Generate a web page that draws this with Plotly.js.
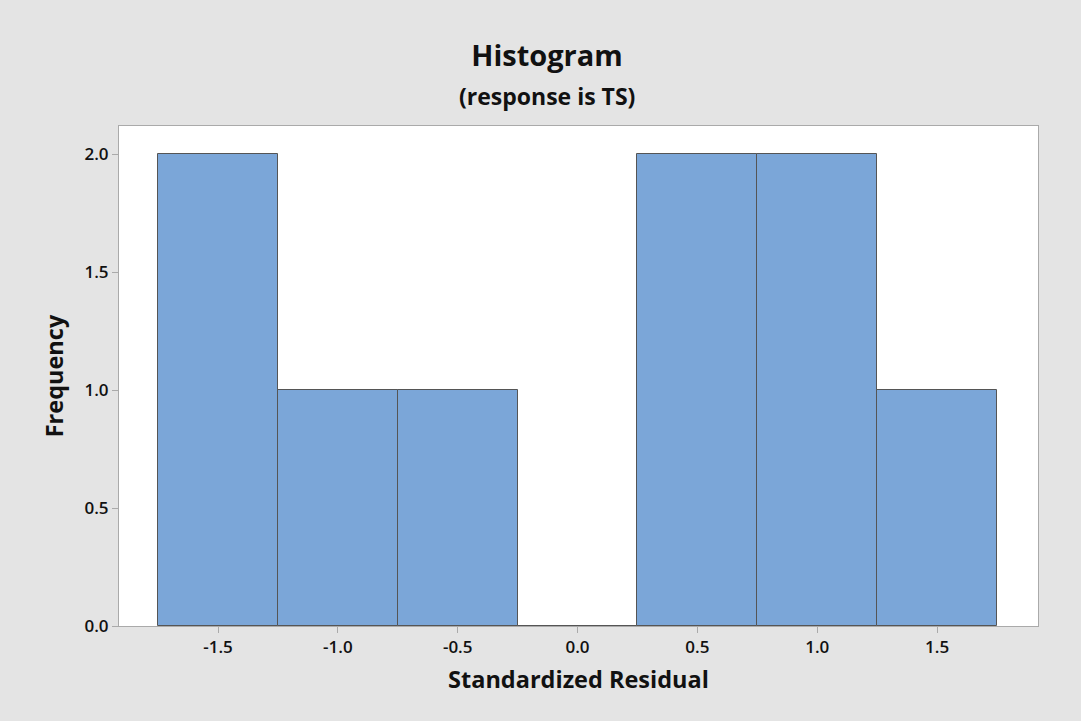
<!DOCTYPE html>
<html>
<head>
<meta charset="utf-8">
<script src="https://cdn.plot.ly/plotly-3.0.1.min.js"></script>
<style>html,body{margin:0;padding:0;background:#e4e4e4;}</style>
</head>
<body>
<div id="chart" style="width:1081px;height:721px;"></div>
<script>
const binCenters = [-1.5, -1.0, -0.5, 0.0, 0.5, 1.0, 1.5];
const frequencies = [2, 1, 1, 0, 2, 2, 1];
const xTickVals = [-1.5, -1.0, -0.5, 0.0, 0.5, 1.0, 1.5];
const xTickText = ['-1.5', '-1.0', '-0.5', '0.0', '0.5', '1.0', '1.5'];
const yTickVals = [0, 0.5, 1.0, 1.5, 2.0];
const yTickText = ['0.0', '0.5', '1.0', '1.5', '2.0'];

const font = '"Open Sans", "Noto Sans", sans-serif';

Plotly.newPlot('chart', [{
  type: 'bar',
  x: binCenters,
  y: frequencies,
  width: 0.5,
  marker: {color: '#7ba6d8', line: {color: '#555555', width: 1}},
  hoverinfo: 'x+y'
}], {
  width: 1081, height: 721,
  paper_bgcolor: '#e4e4e4',
  plot_bgcolor: '#ffffff',
  margin: {l: 119, r: 43, t: 126, b: 95},
  showlegend: false,
  bargap: 0,
  title: {text: 'Histogram', font: {family: font, size: 29, color: '#111', weight: 'bold'}, x: 0.506, xanchor: 'center', y: 0.922, yanchor: 'middle'},
  annotations: [{
    text: '(response is TS)', xref: 'paper', yref: 'paper', x: 0.506 * 1081 / 919 - 119 / 919, y: 1 + (126 - 96) / 500,
    showarrow: false, xanchor: 'center', yanchor: 'middle', font: {family: font, size: 23, color: '#111', weight: 'bold'}
  }],
  xaxis: {
    range: [-1.913, 1.921],
    tickvals: xTickVals, ticktext: xTickText,
    ticks: 'outside', ticklen: 6, tickcolor: '#aaaaaa', tickwidth: 1,
    showgrid: false, zeroline: false,
    showline: true, linecolor: '#aaaaaa', linewidth: 1, mirror: true,
    tickfont: {family: font, size: 17, color: '#111', weight: 600},
    title: {text: 'Standardized Residual', font: {family: font, size: 23.5, color: '#111', weight: 'bold'}, standoff: 14}
  },
  yaxis: {
    range: [0, 2.119],
    tickvals: yTickVals, ticktext: yTickText,
    ticks: 'outside', ticklen: 6, tickcolor: '#aaaaaa', tickwidth: 1,
    showgrid: false, zeroline: false,
    showline: true, linecolor: '#aaaaaa', linewidth: 1, mirror: true,
    tickfont: {family: font, size: 17, color: '#111', weight: 600},
    title: {text: 'Frequency', font: {family: font, size: 23.5, color: '#111', weight: 'bold'}, standoff: 14}
  }
}, {displayModeBar: false});
</script>
</body>
</html>
